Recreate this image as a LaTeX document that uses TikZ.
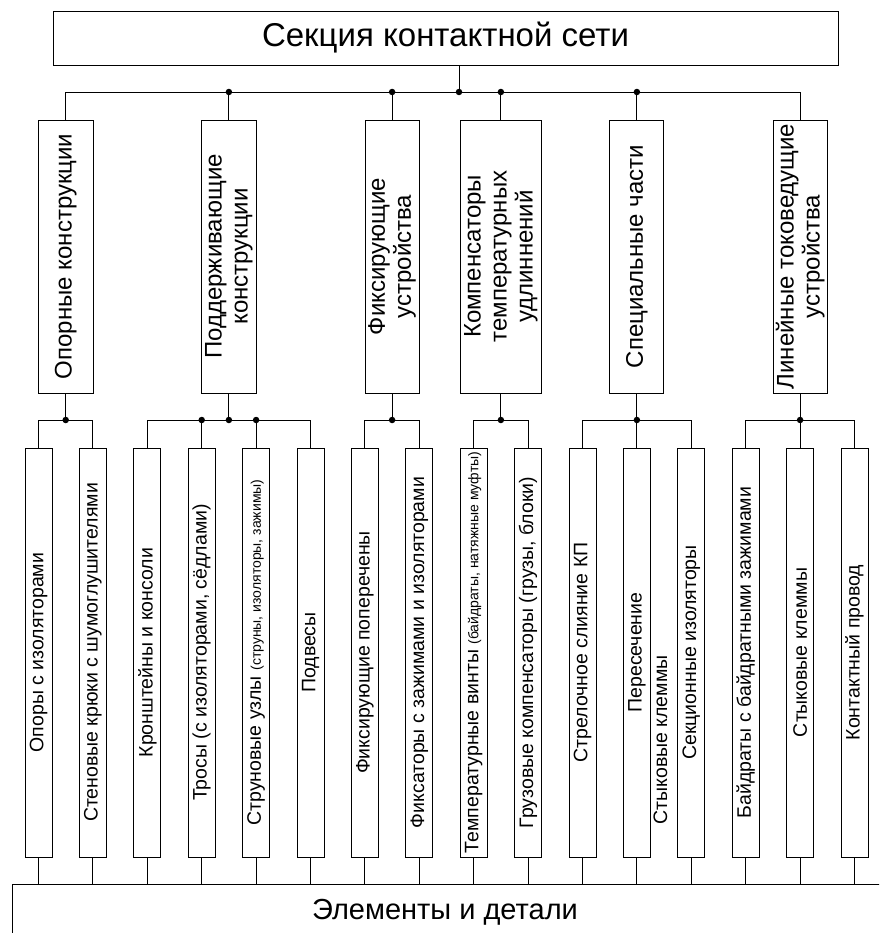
\documentclass[tikz,border=0pt]{standalone}
\usepackage{fontspec}
\setmainfont{Liberation Sans}
\begin{document}
\begin{tikzpicture}[x=1pt,y=-1pt, line width=0.9pt,
  box/.style={draw, rectangle, inner sep=0pt},
  lvtwo/.style={box, rotate=90, minimum width=273pt, font=\fontsize{24}{26}\selectfont, align=center},
  lvthree/.style={box, rotate=90, minimum width=409pt, minimum height=27pt, font=\fontsize{19.5}{22}\selectfont},
  jdot/.style={circle, fill, inner sep=0pt, minimum size=6.5pt}]
\useasboundingbox (0,0) rectangle (879,933);
\clip (0,0) rectangle (879,933);
% title
\node[box, minimum width=785pt, minimum height=54pt, font=\fontsize{33}{36}\selectfont] (top) at (445.5,38) {Секция контактной сети};
\coordinate (tj) at (459,92);
\coordinate (b3) at (0,420);
% level 2
\node[lvtwo, minimum height=55pt] (l2a) at (65.7,256.5) {Опорные конструкции};
\node[lvtwo, minimum height=55pt] (l2b) at (228.9,256.5) {Поддерживающие\\конструкции};
\node[lvtwo, minimum height=54pt] (l2c) at (392.1,256.5) {Фиксирующие\\устройства};
\node[lvtwo, minimum height=81pt] (l2d) at (500.9,256.5) {Компенсаторы\\температурных\\удлиннений};
\node[lvtwo, minimum height=54pt] (l2e) at (636.9,256.5) {Специальные части};
\node[lvtwo, minimum height=54pt] (l2f) at (800.1,256.5) {Линейные токоведущие\\устройства};
% level 3
\node[lvthree] (n0) at (38.5,652.5) {Опоры с изоляторами};
\node[lvthree] (n1) at (92.9,652.5) {Стеновые крюки с шумоглушителями};
\node[lvthree] (n2) at (147.3,652.5) {Кронштейны и консоли};
\node[lvthree] (n3) at (201.7,652.5) {Тросы (с изоляторами, сёдлами)};
\node[lvthree] (n4) at (256.1,652.5) {Струновые узлы {\fontsize{14}{16}\selectfont(струны, изоляторы, зажимы)}};
\node[lvthree] (n5) at (310.5,652.5) {Подвесы};
\node[lvthree] (n6) at (364.9,652.5) {Фиксирующие поперечены};
\node[lvthree] (n7) at (419.3,652.5) {Фиксаторы с зажимами и изоляторами};
\node[lvthree] (n8) at (473.7,652.5) {Температурные винты {\fontsize{14}{16}\selectfont(байдраты, натяжные муфты)}};
\node[lvthree] (n9) at (528.1,652.5) {Грузовые компенсаторы (грузы, блоки)};
\node[lvthree] (n10) at (582.5,652.5) {Стрелочное слияние КП};
\node[lvthree] (n11) at (636.9,652.5) {Пересечение};
\node[lvthree] (n12) at (691.3,652.5) {Секционные изоляторы};
\node[lvthree] (n13) at (745.7,652.5) {Байдраты с байдратными зажимами};
\node[lvthree] (n14) at (800.1,652.5) {Стыковые клеммы};
\node[lvthree] (n15) at (854.5,652.5) {Контактный провод};
\node[rotate=90, inner sep=0pt, font=\fontsize{19.5}{22}\selectfont] (n11b) at (660.5,740) {Стыковые клеммы};
% bottom
\node[draw, rectangle, anchor=north west, minimum width=900pt, minimum height=80pt] (elem) at (12,884) {};
\node[font=\fontsize{29}{32}\selectfont] (elemt) at (445,912) {Элементы и детали};
% top connectors
\draw (top.south -| tj) -- (tj);
\draw (l2a.east) -- (l2a.east |- tj) -- (l2f.east |- tj) -- (l2f.east);
\foreach \n in {l2b,l2c,l2d,l2e} {
  \draw (\n.east) -- (\n.east |- tj);
  \node[jdot] at (\n.east |- tj) {};
}
\node[jdot] at (tj) {};
% level 2 to level 3
\foreach \p in {l2a,l2b,l2c,l2d,l2e,l2f} {
  \draw (\p.west) -- (\p.west |- b3);
  \node[jdot] at (\p.west |- b3) {};
}
\draw (n0.east) -- (n0.east |- b3) -- (n1.east |- b3) -- (n1.east);
\draw (n2.east) -- (n2.east |- b3) -- (n5.east |- b3) -- (n5.east);
\draw (n3.east) -- (n3.east |- b3);
\draw (n4.east) -- (n4.east |- b3);
\node[jdot] at (n3.east |- b3) {};
\node[jdot] at (n4.east |- b3) {};
\draw (n6.east) -- (n6.east |- b3) -- (n7.east |- b3) -- (n7.east);
\draw (n8.east) -- (n8.east |- b3) -- (n9.east |- b3) -- (n9.east);
\draw (n10.east) -- (n10.east |- b3) -- (n12.east |- b3) -- (n12.east);
\draw (n11.east) -- (n11.east |- b3);
\draw (n13.east) -- (n13.east |- b3) -- (n15.east |- b3) -- (n15.east);
\draw (n14.east) -- (n14.east |- b3);
% level 3 to bottom
\foreach \i in {0,...,15} {
  \draw (n\i.west) -- (n\i.west |- elem.north);
}
\end{tikzpicture}
\end{document}
